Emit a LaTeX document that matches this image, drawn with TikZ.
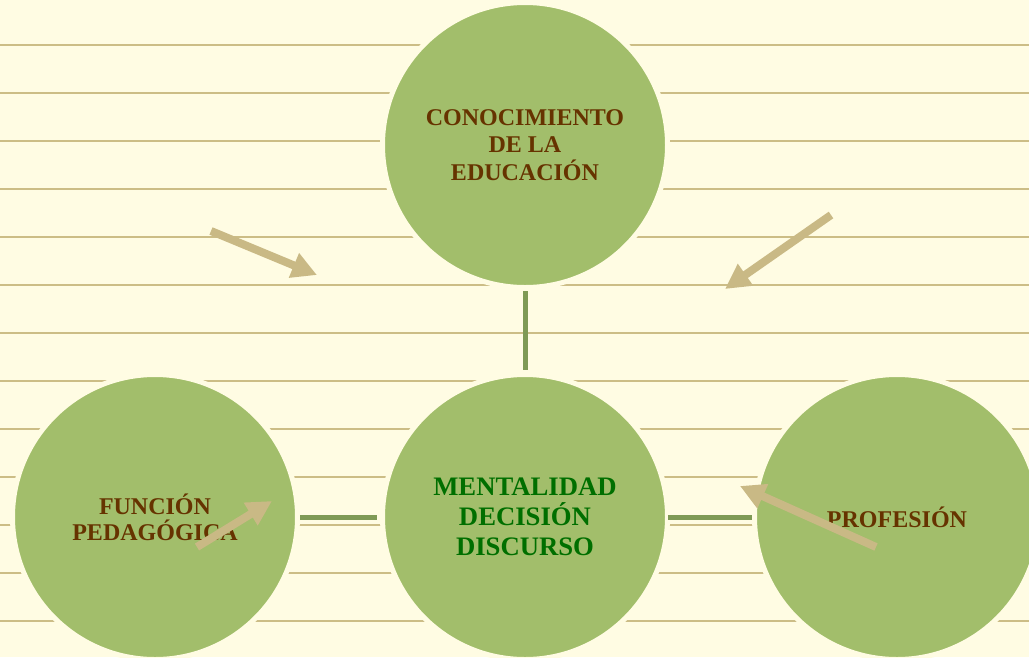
\documentclass[tikz,border=0pt]{standalone}
\usepackage{fontspec}
\setmainfont{Liberation Serif}
\usetikzlibrary{arrows.meta}
\definecolor{bgc}{RGB}{255,252,227}
\definecolor{rulec}{RGB}{204,189,134}
\definecolor{circc}{RGB}{162,190,107}
\definecolor{connc}{RGB}{127,154,85}
\definecolor{arrc}{RGB}{201,185,133}
\definecolor{browntxt}{RGB}{102,51,0}
\definecolor{greentxt}{RGB}{0,111,0}
\tikzset{
  bubble/.style={circle, inner sep=0pt, minimum size=285pt, fill=circc, draw=bgc, line width=5pt, align=center, font=\bfseries},
  conn/.style={draw=connc, line width=5pt},
  bigarrow/.style={draw=arrc, line width=8pt, -{Triangle[length=25pt,width=25pt]}, fill=arrc},
  rule/.style={draw=rulec, line width=2pt}
}
\begin{document}
\begin{tikzpicture}[x=1pt,y=-1pt]
\fill[bgc] (0,0) rectangle (1029,657);
\useasboundingbox (0,0) rectangle (1029,657);
\foreach \k in {0,...,12}{
  \draw[rule] (0,45+48*\k) -- (1029,45+48*\k);
}
\node[bubble, text=browntxt, font=\bfseries\fontsize{24}{27.5}\selectfont] (top) at (525,145) {CONOCIMIENTO\\DE LA\\EDUCACIÓN};
\node[bubble, text=greentxt, font=\bfseries\fontsize{26.7}{30}\selectfont] (mid) at (525,517) {MENTALIDAD\\DECISIÓN\\DISCURSO};
\node[bubble, text=browntxt, font=\bfseries\fontsize{24}{26}\selectfont] (left) at (155,517) {FUNCIÓN\\PEDAGÓGICA};
\node[bubble, text=browntxt, font=\bfseries\fontsize{24}{26}\selectfont] (right) at (897,517) {PROFESIÓN};
\draw[conn, shorten <=1pt, shorten >=2pt] (top.south) -- (mid.north);
\draw[conn, shorten >=3pt] (left.east) -- (mid.west);
\draw[conn, shorten <=-2pt] (mid.east) -- (right.west);
\coordinate (a1s) at (211,231);
\coordinate (a1e) at (317,275);
\coordinate (a2s) at (831,215);
\coordinate (a2e) at (725,289);
\coordinate (a3s) at (197,547);
\coordinate (a3e) at (272,501);
\coordinate (a4s) at (876,547);
\coordinate (a4e) at (740,486);
\draw[bigarrow] (a1s) -- (a1e);
\draw[bigarrow] (a2s) -- (a2e);
\draw[bigarrow] (a3s) -- (a3e);
\draw[bigarrow] (a4s) -- (a4e);
\end{tikzpicture}
\end{document}
